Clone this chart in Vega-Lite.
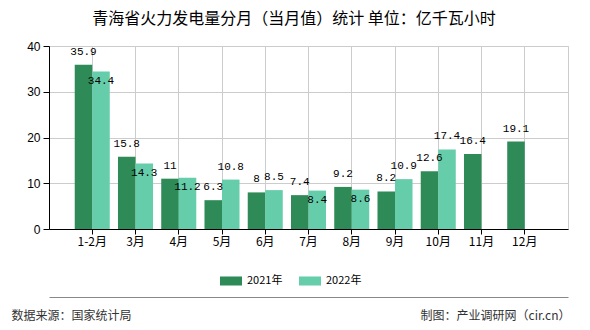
{
  "$schema": "https://vega.github.io/schema/vega-lite/v6.json",
  "width": 519,
  "height": 183,
  "autosize": {"type": "none"},
  "padding": {"left": 49, "top": 46, "right": 22, "bottom": 101},
  "background": "white",
  "config": {"view": {"stroke": "#cccccc"}, "font": "Noto Sans CJK SC"},
  "title": {
    "text": "青海省火力发电量分月（当月值）统计 单位：亿千瓦小时",
    "fontSize": 16,
    "fontWeight": "normal",
    "font": "Noto Sans CJK SC",
    "color": "#000000",
    "anchor": "middle",
    "dx": -14.5,
    "offset": 5,
    "baseline": "middle"
  },
  "data": {
    "values": [
      {"month": "1-2月", "year": "2021年", "value": 35.9},
      {"month": "3月", "year": "2021年", "value": 15.8},
      {"month": "4月", "year": "2021年", "value": 11},
      {"month": "5月", "year": "2021年", "value": 6.3},
      {"month": "6月", "year": "2021年", "value": 8},
      {"month": "7月", "year": "2021年", "value": 7.4},
      {"month": "8月", "year": "2021年", "value": 9.2},
      {"month": "9月", "year": "2021年", "value": 8.2},
      {"month": "10月", "year": "2021年", "value": 12.6},
      {"month": "11月", "year": "2021年", "value": 16.4},
      {"month": "12月", "year": "2021年", "value": 19.1},
      {"month": "1-2月", "year": "2022年", "value": 34.4},
      {"month": "3月", "year": "2022年", "value": 14.3},
      {"month": "4月", "year": "2022年", "value": 11.2},
      {"month": "5月", "year": "2022年", "value": 10.8},
      {"month": "6月", "year": "2022年", "value": 8.5},
      {"month": "7月", "year": "2022年", "value": 8.4},
      {"month": "8月", "year": "2022年", "value": 8.6},
      {"month": "9月", "year": "2022年", "value": 10.9},
      {"month": "10月", "year": "2022年", "value": 17.4}
    ]
  },
  "layer": [
    {
      "mark": {"type": "bar"},
      "encoding": {
        "x": {
          "field": "month",
          "type": "nominal",
          "sort": ["1-2月", "3月", "4月", "5月", "6月", "7月", "8月", "9月", "10月", "11月", "12月"],
          "scale": {"paddingInner": 0.19, "paddingOuter": 0.595},
          "axis": {
            "title": "数据来源：国家统计局",
            "titleX": -38,
            "titleY": 86,
            "titleAlign": "left",
            "titleBaseline": "middle",
            "titleFontSize": 12,
            "titleFontWeight": "normal",
            "titleColor": "#333333",
            "labelAngle": 0,
            "labelFontSize": 12,
            "labelColor": "#000000",
            "labelPadding": 2,
            "domainColor": "#000000",
            "tickColor": "#000000",
            "tickSize": 5,
            "grid": true,
            "gridColor": "#cccccc",
            "bandPosition": 0.5
          }
        },
        "xOffset": {"field": "year", "type": "nominal", "scale": {"domain": ["2021年", "2022年"], "paddingInner": 0, "paddingOuter": 0}},
        "y": {
          "field": "value",
          "type": "quantitative",
          "scale": {"domain": [0, 40]},
          "axis": {
            "title": "制图：产业调研网（cir.cn）",
            "titleAngle": 0,
            "titleX": 521,
            "titleY": 269,
            "titleAlign": "right",
            "titleBaseline": "middle",
            "titleFontSize": 12,
            "titleFontWeight": "normal",
            "titleColor": "#333333",
            "values": [0, 10, 20, 30, 40],
            "labelFont": "Liberation Sans",
            "labelFontSize": 12,
            "labelColor": "#000000",
            "labelPadding": 3,
            "tickColor": "#000000",
            "tickSize": 6,
            "domainColor": "#000000",
            "gridColor": "#cccccc"
          }
        },
        "color": {
          "field": "year",
          "type": "nominal",
          "scale": {"domain": ["2021年", "2022年"], "range": ["#2E8B57", "#66CDAA"]},
          "legend": {
            "title": null,
            "orient": "none",
            "legendX": 171,
            "legendY": 224,
            "direction": "horizontal",
            "symbolType": "M-1,-0.41H1V0.41H-1Z",
            "symbolSize": 484,
            "symbolStrokeWidth": 0,
            "labelFontSize": 11,
            "labelColor": "#000000",
            "labelOffset": 5,
            "columnPadding": 16
          }
        }
      }
    },
    {
      "transform": [{"filter": {"not": {"and": [{"field": "year", "equal": "2022年"}, {"field": "month", "oneOf": ["1-2月", "3月", "4月", "7月", "8月"]}]}}}],
      "mark": {"type": "text", "dy": -13, "baseline": "middle", "font": "Liberation Mono", "fontSize": 11, "color": "#000000"},
      "encoding": {
        "x": {
          "field": "month",
          "type": "nominal",
          "sort": ["1-2月", "3月", "4月", "5月", "6月", "7月", "8月", "9月", "10月", "11月", "12月"],
          "axis": {"orient": "bottom", "offset": 68, "labels": false, "ticks": false, "grid": false, "title": null, "domainColor": "#888888"}
        },
        "xOffset": {"field": "year", "type": "nominal"},
        "y": {"field": "value", "type": "quantitative"},
        "text": {"field": "value", "type": "nominal"}
      }
    },
    {
      "transform": [{"filter": {"and": [{"field": "year", "equal": "2022年"}, {"field": "month", "oneOf": ["1-2月", "3月", "4月", "7月", "8月"]}]}}],
      "mark": {"type": "text", "dy": 9, "baseline": "middle", "font": "Liberation Mono", "fontSize": 11, "color": "#000000"},
      "encoding": {
        "x": {
          "field": "month",
          "type": "nominal",
          "sort": ["1-2月", "3月", "4月", "5月", "6月", "7月", "8月", "9月", "10月", "11月", "12月"],
          "axis": null
        },
        "xOffset": {"field": "year", "type": "nominal"},
        "y": {"field": "value", "type": "quantitative"},
        "text": {"field": "value", "type": "nominal"}
      }
    }
  ],
  "resolve": {"axis": {"x": "independent"}}
}
